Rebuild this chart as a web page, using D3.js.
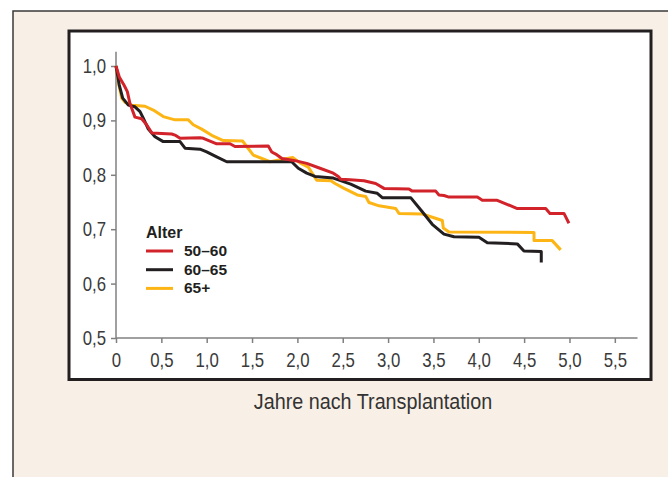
<!DOCTYPE html>
<html>
<head>
<meta charset="utf-8">
<script src="https://cdn.jsdelivr.net/npm/d3@7"></script>
<style>
  body { margin: 0; background: #fff; }
  svg { display: block; }
  .tick text { font-family: 'Liberation Sans', sans-serif; font-size: 20px; fill: #3a3a3a; }
</style>
</head>
<body>
<script>
// Kaplan-Meier Kurven nach Alter
const groups = ['50–60', '60–65', '65+'];
const colors = ['#d2232a', '#231f20', '#fdb515'];

const t5060 = [0, 0.036, 0.088, 0.125, 0.154, 0.209, 0.283, 0.338, 0.394, 0.614, 0.650, 0.706, 0.926, 0.963, 1.110, 1.257, 1.312, 1.679, 1.717, 1.772, 1.830, 1.974, 2.103, 2.249, 2.396, 2.451, 2.477, 2.580, 2.734, 2.863, 2.955, 3.230, 3.267, 3.525, 3.561, 3.616, 3.671, 3.984, 4.039, 4.204, 4.425, 4.738, 4.785, 4.939, 4.994];
const s5060 = [1.0, 0.980, 0.965, 0.953, 0.931, 0.906, 0.903, 0.892, 0.877, 0.875, 0.873, 0.867, 0.868, 0.867, 0.857, 0.857, 0.852, 0.853, 0.842, 0.837, 0.830, 0.826, 0.821, 0.812, 0.803, 0.797, 0.792, 0.791, 0.789, 0.784, 0.775, 0.774, 0.770, 0.770, 0.763, 0.762, 0.759, 0.759, 0.753, 0.753, 0.738, 0.738, 0.729, 0.729, 0.711];

const t6065 = [0, 0.036, 0.074, 0.136, 0.209, 0.265, 0.301, 0.356, 0.430, 0.521, 0.706, 0.761, 0.926, 1.000, 1.110, 1.221, 1.937, 2.010, 2.103, 2.194, 2.396, 2.588, 2.753, 2.881, 2.936, 3.249, 3.377, 3.487, 3.616, 3.727, 4.002, 4.094, 4.425, 4.498, 4.689, 4.689];
const s6065 = [1.0, 0.965, 0.941, 0.928, 0.925, 0.916, 0.904, 0.884, 0.870, 0.861, 0.861, 0.849, 0.847, 0.842, 0.833, 0.824, 0.824, 0.812, 0.803, 0.797, 0.794, 0.783, 0.770, 0.766, 0.758, 0.758, 0.732, 0.709, 0.691, 0.686, 0.685, 0.675, 0.673, 0.660, 0.659, 0.639];

const t65 = [0, 0.036, 0.063, 0.099, 0.173, 0.320, 0.411, 0.521, 0.650, 0.797, 0.852, 0.945, 1.073, 1.183, 1.397, 1.441, 1.514, 1.698, 1.827, 1.948, 2.029, 2.120, 2.213, 2.370, 2.415, 2.514, 2.660, 2.753, 2.789, 2.900, 3.084, 3.120, 3.377, 3.598, 3.609, 3.671, 4.609, 4.609, 4.810, 4.903];
const s65 = [1.0, 0.962, 0.941, 0.933, 0.928, 0.926, 0.919, 0.907, 0.901, 0.901, 0.892, 0.884, 0.871, 0.863, 0.862, 0.852, 0.836, 0.824, 0.828, 0.832, 0.822, 0.814, 0.790, 0.789, 0.784, 0.775, 0.763, 0.760, 0.749, 0.743, 0.738, 0.729, 0.728, 0.716, 0.702, 0.695, 0.694, 0.679, 0.679, 0.662];

const xTicks = [0, 0.5, 1.0, 1.5, 2.0, 2.5, 3.0, 3.5, 4.0, 4.5, 5.0, 5.5];
const yTicks = [0.5, 0.6, 0.7, 0.8, 0.9, 1.0];

const width = 668;
const height = 477;
const squeeze = 0.84; // schmale Schrift nachbilden

const series = [
  { name: groups[0], color: colors[0], values: t5060.map((t, i) => ({ t, s: s5060[i] })) },
  { name: groups[1], color: colors[1], values: t6065.map((t, i) => ({ t, s: s6065[i] })) },
  { name: groups[2], color: colors[2], values: t65.map((t, i) => ({ t, s: s65[i] })) }
];

const fmt = d => d === 0 ? '0' : d3.format('.1f')(d).replace('.', ',');

const svg = d3.select('body')
  .append('svg')
  .attr('width', width)
  .attr('height', height);

// beiger Hintergrund + Rahmen
svg.append('rect')
  .attr('x', 13).attr('y', 11)
  .attr('width', width).attr('height', height)
  .attr('fill', '#f8efe6')
  .attr('stroke', '#3a3a3a')
  .attr('stroke-width', 1.5);

svg.append('rect')
  .attr('x', 69).attr('y', 31)
  .attr('width', 582).attr('height', 348.5)
  .attr('fill', '#fff')
  .attr('stroke', '#231f20')
  .attr('stroke-width', 3);

const x = d3.scaleLinear().domain([0, 5.75]).range([116, 637.5]);
const y = d3.scaleLinear().domain([0.5, 1.0]).range([338, 66]);

const xAxis = svg.append('g')
  .attr('transform', `translate(0,${y(0.5)})`)
  .call(d3.axisBottom(x).tickValues(xTicks).tickFormat(fmt).tickSize(5).tickPadding(10));

const yAxis = svg.append('g')
  .attr('transform', `translate(${x(0)},0)`)
  .call(d3.axisLeft(y).tickValues(yTicks).tickFormat(fmt).tickSize(5).tickPadding(5));

yAxis.select('.domain').attr('d', `M0,${y(0.5)}V${y(1.026)}`);
xAxis.select('.domain').attr('d', `M${x(0)},0H${x(5.75)}`);

[xAxis, yAxis].forEach(a => {
  a.selectAll('.domain, .tick line').attr('stroke', '#808080').attr('stroke-width', 1.5);
});
xAxis.selectAll('.tick text')
  .attr('dy', '0.72em')
  .attr('transform', `scale(${squeeze},1)`);
yAxis.selectAll('.tick text')
  .attr('x', -10 / squeeze)
  .attr('transform', `scale(${squeeze},1)`);

svg.append('text')
  .attr('transform', `translate(373,409) scale(0.92,1)`)
  .attr('text-anchor', 'middle')
  .style('font-family', "'Liberation Sans', sans-serif")
  .style('font-size', '21.5px')
  .style('fill', '#333')
  .text('Jahre nach Transplantation');

const line = d3.line()
  .x(d => x(d.t))
  .y(d => y(d.s));

svg.append('g')
  .selectAll('path')
  .data(series.slice().reverse())
  .enter().append('path')
    .attr('d', d => line(d.values))
    .attr('fill', 'none')
    .attr('stroke', d => d.color)
    .attr('stroke-width', 3)
    .attr('stroke-linejoin', 'round');

// Legende
const legend = svg.append('g');

legend.append('text')
  .attr('x', 146).attr('y', 238)
  .style('font-family', "'Liberation Sans', sans-serif")
  .style('font-weight', 'bold')
  .style('font-size', '16px')
  .style('fill', '#231f20')
  .text('Alter');

const item = legend.selectAll('g.item')
  .data(series)
  .enter().append('g')
    .attr('class', 'item')
    .attr('transform', (d, i) => `translate(0,${251 + i * 18.7})`);

item.append('line')
  .attr('x1', 146).attr('x2', 173)
  .attr('stroke', d => d.color)
  .attr('stroke-width', 3);

item.append('text')
  .attr('x', 184).attr('y', 5)
  .style('font-family', "'Liberation Sans', sans-serif")
  .style('font-weight', 'bold')
  .style('font-size', '15.5px')
  .style('fill', '#231f20')
  .text(d => d.name);
</script>
</body>
</html>
